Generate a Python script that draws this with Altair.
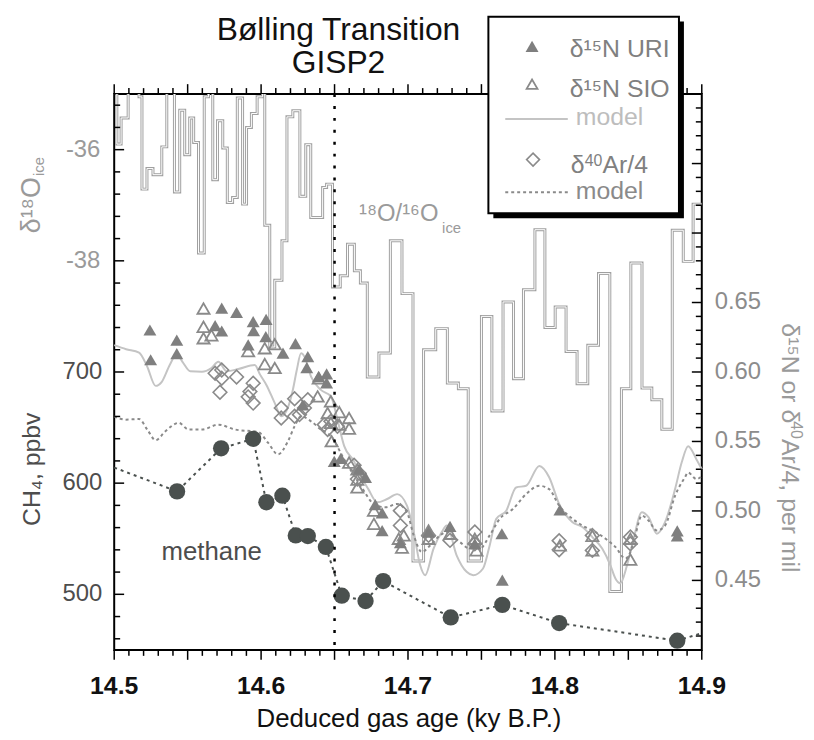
import altair as alt
import pandas as pd

FONT = "Liberation Sans"

# ---------------- data ----------------
# delta18O of ice (step series: start age of each step, per mil)
ice_age = [14.5000, 14.5018, 14.5047, 14.5095, 14.5169, 14.5189, 14.5223, 14.5264, 14.5324, 14.5358,
           14.5410, 14.5446, 14.5480, 14.5514, 14.5541, 14.5574, 14.5613, 14.5642, 14.5671, 14.5703,
           14.5739, 14.5770, 14.5806, 14.5838, 14.5874, 14.5901, 14.5934, 14.5973, 14.6010, 14.6025,
           14.6059, 14.6093, 14.6142, 14.6176, 14.6216, 14.6264, 14.6304, 14.6338, 14.6419, 14.6446,
           14.6486, 14.6539, 14.6588, 14.6635, 14.6676, 14.6723, 14.6802, 14.6880, 14.6959, 14.7034,
           14.7106, 14.7189, 14.7268, 14.7343, 14.7410, 14.7500, 14.7571, 14.7647, 14.7718, 14.7786,
           14.7864, 14.7932, 14.8002, 14.8076, 14.8151, 14.8224, 14.8297, 14.8374, 14.8453, 14.8517,
           14.8593, 14.8660, 14.8728, 14.8799, 14.8874, 14.8941, 14.9000]
ice_d18o = [-34.6, -35.90, -35.43, -34.6, -35.05, -36.71, -36.34, -36.45, -35.95, -34.6,
            -36.76, -35.29, -36.09, -35.43, -35.87, -37.86, -35.05, -34.6, -36.54, -35.48,
            -35.97, -36.95, -36.86, -35.07, -36.98, -35.60, -35.35, -35.05, -34.6, -37.36,
            -39.55, -38.35, -37.64, -35.41, -35.30, -36.84, -35.91, -37.22, -36.68, -36.62,
            -38.47, -38.27, -37.70, -38.18, -38.40, -40.09, -39.66, -37.64, -38.59, -43.40,
            -39.60, -39.22, -40.20, -40.30, -43.40, -39.00, -40.70, -38.74, -40.12, -38.52,
            -37.44, -39.20, -38.83, -39.63, -40.21, -39.52, -38.23, -43.95, -40.30, -38.04,
            -40.29, -40.50, -41.03, -37.45, -38.01, -36.98, -36.98]

# delta15N URI (filled triangles)
uri_age = [14.5243, 14.5248, 14.5426, 14.5426, 14.5687, 14.5732, 14.5732, 14.5833, 14.5946, 14.5949,
           14.6034, 14.6032, 14.5912, 14.6149, 14.6234, 14.6318, 14.6311, 14.6392, 14.6446, 14.6446,
           14.6284, 14.6498, 14.6543, 14.6667, 14.6711, 14.6777, 14.6824, 14.6824, 14.6948, 14.7140,
           14.7286, 14.7455, 14.7639, 14.7642, 14.8034, 14.8833, 14.8833]
uri_d15n = [0.6302, 0.6088, 0.6229, 0.6132, 0.6334, 0.6459, 0.6295, 0.6429, 0.6362, 0.6298,
            0.6379, 0.6254, 0.6195, 0.6136, 0.6204, 0.6111, 0.6032, 0.5968, 0.5986, 0.5921,
            0.5764, 0.5357, 0.5379, 0.5300, 0.5241, 0.5046, 0.4986, 0.4859, 0.4771, 0.4848,
            0.4889, 0.4764, 0.4836, 0.4502, 0.5007, 0.4857, 0.4821]

# delta15N SIO (open triangles)
sio_age = [14.5608, 14.5608, 14.5608, 14.5662, 14.5912, 14.6025, 14.6093, 14.6025, 14.6093, 14.6392,
           14.6385, 14.6475, 14.6453, 14.6532, 14.6599, 14.6599, 14.6532, 14.6475, 14.6480, 14.6599,
           14.6655, 14.6655, 14.6655, 14.6768, 14.6768, 14.6937, 14.6971, 14.6959, 14.7140, 14.7140,
           14.7286, 14.7455, 14.7466, 14.8034, 14.8255, 14.8255, 14.8514, 14.8514]
sio_d15n = [0.6457, 0.6325, 0.6243, 0.6264, 0.6150, 0.6171, 0.6200, 0.6057, 0.6029, 0.5955,
            0.5824, 0.5789, 0.5705, 0.5711, 0.5669, 0.5593, 0.5621, 0.5634, 0.5502, 0.5348,
            0.5300, 0.5225, 0.5169, 0.5002, 0.4907, 0.4800, 0.4824, 0.4736, 0.4859, 0.4800,
            0.4836, 0.4800, 0.4716, 0.4752, 0.4821, 0.4716, 0.4800, 0.4650]

# delta40Ar/4 (open diamonds)
ar_age = [14.5687, 14.5732, 14.5732, 14.5833, 14.5720, 14.5946, 14.5924, 14.5912, 14.5946, 14.6137,
          14.6137, 14.6228, 14.6228, 14.6295, 14.6318, 14.6261, 14.6430, 14.6475, 14.6520, 14.6453,
          14.6633, 14.6667, 14.6655, 14.6948, 14.6948, 14.7140, 14.7286, 14.7455, 14.7455, 14.8029,
          14.8029, 14.8255, 14.8255, 14.8514, 14.8514]
ar_val = [0.5991, 0.6014, 0.5955, 0.5964, 0.5854, 0.5919, 0.5859, 0.5821, 0.5776, 0.5741,
          0.5669, 0.5807, 0.5681, 0.5741, 0.5800, 0.5693, 0.5621, 0.5645, 0.5609, 0.5586,
          0.5329, 0.5271, 0.5229, 0.5002, 0.4895, 0.4824, 0.4788, 0.4848, 0.4764, 0.4786,
          0.4721, 0.4824, 0.4716, 0.4812, 0.4764]

# delta15N model (solid light line)
n_model_age = [14.5000, 14.5081, 14.5169, 14.5223, 14.5282, 14.5324, 14.5378, 14.5426, 14.5466, 14.5518,
               14.5597, 14.5662, 14.5709, 14.5766, 14.5845, 14.5957, 14.5993, 14.6036, 14.6093, 14.6137,
               14.6182, 14.6216, 14.6243, 14.6272, 14.6297, 14.6340, 14.6407, 14.6475, 14.6520, 14.6566,
               14.6633, 14.6678, 14.6730, 14.6791, 14.6858, 14.6926, 14.6993, 14.7039, 14.7083, 14.7117,
               14.7174, 14.7230, 14.7264, 14.7331, 14.7399, 14.7444, 14.7511, 14.7556, 14.7601, 14.7669,
               14.7736, 14.7804, 14.7894, 14.7961, 14.8029, 14.8120, 14.8187, 14.8255, 14.8322, 14.8378,
               14.8412, 14.8446, 14.8491, 14.8536, 14.8592, 14.8637, 14.8694, 14.8750, 14.8818, 14.8863,
               14.8907, 14.8964, 14.9000]
n_model_val = [0.6193, 0.6164, 0.6139, 0.6043, 0.5900, 0.5929, 0.6050, 0.6129, 0.6071, 0.6005,
               0.6002, 0.6029, 0.6074, 0.6005, 0.6021, 0.6050, 0.5981, 0.5907, 0.5776, 0.5681,
               0.5743, 0.5871, 0.6014, 0.6134, 0.6107, 0.5966, 0.5871, 0.5824, 0.5657, 0.5466,
               0.5357, 0.5252, 0.5157, 0.5062, 0.5086, 0.5121, 0.5038, 0.4848, 0.4609, 0.4538,
               0.4729, 0.4848, 0.4895, 0.4681, 0.4562, 0.4538, 0.4586, 0.4752, 0.4943, 0.5002,
               0.5169, 0.5181, 0.5324, 0.5243, 0.5050, 0.4919, 0.4884, 0.4812, 0.4729, 0.4609,
               0.4514, 0.4479, 0.4609, 0.4800, 0.4991, 0.4955, 0.4836, 0.4919, 0.5157, 0.5348,
               0.5466, 0.5371, 0.5300]

# delta40Ar/4 model (dotted line)
ar_model_age = [14.5000, 14.5079, 14.5169, 14.5225, 14.5282, 14.5349, 14.5439, 14.5507, 14.5597, 14.5709,
                14.5822, 14.5980, 14.6047, 14.6115, 14.6182, 14.6228, 14.6272, 14.6340, 14.6407, 14.6475,
                14.6566, 14.6678, 14.6768, 14.6847, 14.6926, 14.6993, 14.7039, 14.7095, 14.7151, 14.7218,
                14.7264, 14.7353, 14.7421, 14.7489, 14.7556, 14.7624, 14.7714, 14.7804, 14.7894, 14.7961,
                14.8029, 14.8120, 14.8187, 14.8277, 14.8345, 14.8412, 14.8480, 14.8514, 14.8547, 14.8592,
                14.8637, 14.8694, 14.8750, 14.8818, 14.8885, 14.8907, 14.8964, 14.9000]
ar_model_val = [0.5681, 0.5657, 0.5662, 0.5586, 0.5509, 0.5574, 0.5634, 0.5586, 0.5586, 0.5621,
                0.5586, 0.5568, 0.5491, 0.5407, 0.5500, 0.5609, 0.5681, 0.5645, 0.5586, 0.5538,
                0.5371, 0.5181, 0.5050, 0.5026, 0.5050, 0.4991, 0.4824, 0.4705, 0.4752, 0.4824,
                0.4848, 0.4776, 0.4729, 0.4729, 0.4824, 0.4943, 0.5014, 0.5121, 0.5181, 0.5157,
                0.5038, 0.4943, 0.4895, 0.4848, 0.4800, 0.4741, 0.4657, 0.4705, 0.4824, 0.4966,
                0.4931, 0.4859, 0.4895, 0.5109, 0.5241, 0.5276, 0.5229, 0.5250]

# methane (filled circles, dotted connecting line)
ch4_age = [14.5428, 14.5728, 14.5946, 14.6036, 14.6145, 14.6236, 14.6318, 14.6441, 14.6549, 14.6711,
           14.6831, 14.7291, 14.7642, 14.8029, 14.8833]
ch4_ppbv = [592.6, 631.3, 639.9, 582.8, 588.7, 553.0, 552.4, 542.6, 498.8, 494.0,
            511.9, 479.2, 490.5, 474.1, 458.3]
# where the dotted methane line meets the plot edges
ch4_edge_age = [14.5000, 14.9000]
ch4_edge_ppbv = [614.0, 465.0]

transition_age = [14.65]

# tick labels
x_labels = [14.5, 14.6, 14.7, 14.8, 14.9]
ice_labels = [-36, -38]
ch4_labels = [500, 600, 700]
n_labels = [0.45, 0.50, 0.55, 0.60, 0.65]

# tick marks
x_ticks_major = [round(14.5 + 0.05 * i, 2) for i in range(9)]
x_ticks_minor = [round(14.5 + 0.01 * i, 2) for i in range(41) if i % 5]
left_ticks_major = [500, 600, 700, 800, 900]
left_ticks_minor = [460 + 20 * i for i in range(25) if (460 + 20 * i) % 100]
right_ticks_major = [0.45, 0.50, 0.55, 0.60, 0.65, 0.70, 0.75]
right_ticks_minor = [round(0.40 + 0.01 * i, 2) for i in range(1, 40) if i % 5]

# ---------------- chart ----------------
W, H = 592, 560
xs = alt.Scale(domain=[14.5, 14.9], nice=False, zero=False)
ys_ice = alt.Scale(domain=[-45, -35], nice=False, zero=False)
ys_ch4 = alt.Scale(domain=[450, 950], nice=False, zero=False)
ys_n = alt.Scale(domain=[0.40, 0.80], nice=False, zero=False)

GRAY = "#8a8a8a"
DARK = "#4a504e"
one = pd.DataFrame({"k": [0]})


def X(field):
    return alt.X(f"{field}:Q", scale=xs, axis=None)


def Y(field, scale):
    return alt.Y(f"{field}:Q", scale=scale, axis=None)


def free_text(txt, x, y, size, color, angle=0, align="center", baseline="middle", weight="normal"):
    return alt.Chart(one).mark_text(angle=angle, align=align, baseline=baseline, font=FONT,
                                    fontSize=size, color=color, fontWeight=weight).encode(
        x=alt.value(x), y=alt.value(y), text=alt.value(txt))


# --- ice group ---
ice_df = pd.DataFrame({"age": ice_age, "v": ice_d18o})
ice_gray = alt.Chart(ice_df).mark_line(interpolate="step-after", color="#a0a0a0",
                                        strokeWidth=3.0, clip=True).encode(
    x=X("age"), y=Y("v", ys_ice))
ice_white = alt.Chart(ice_df).mark_line(interpolate="step-after", color="white",
                                         strokeWidth=1.0, clip=True).encode(
    x=X("age"), y=Y("v", ys_ice))

note_df = pd.DataFrame({"age": [14.6667], "v": [-37.29], "t": ["¹⁸O/¹⁶O"]})
note_sub_df = pd.DataFrame({"age": [14.7232], "v": [-37.50], "t": ["ice"]})
ice_note = alt.Chart(note_df).mark_text(align="left", baseline="alphabetic", font=FONT,
                                        fontSize=24, color="#9a9a9a").encode(
    x=X("age"), y=Y("v", ys_ice), text="t:N")
ice_note_sub = alt.Chart(note_sub_df).mark_text(align="left", baseline="alphabetic", font=FONT,
                                                fontSize=15, color="#9a9a9a").encode(
    x=X("age"), y=Y("v", ys_ice), text="t:N")

ice_lab_df = pd.DataFrame({"v": ice_labels, "t": [f"-{abs(v)}" for v in ice_labels]})
ice_labs = alt.Chart(ice_lab_df).mark_text(align="right", baseline="middle", font=FONT,
                                           fontSize=24, color="#9a9a9a").encode(
    y=Y("v", ys_ice), x=alt.value(-14), text="t:N")

x_lab_df = pd.DataFrame({"age": x_labels, "t": [f"{v:.1f}" for v in x_labels]})
x_labs = alt.Chart(x_lab_df).mark_text(align="center", baseline="top", font=FONT, fontSize=25,
                                       fontWeight="bold", color="#111111").encode(
    x=X("age"), y=alt.value(H + 24), text="t:N")

tick_x_major = pd.DataFrame({"age": x_ticks_major})
tick_x_minor = pd.DataFrame({"age": x_ticks_minor})
top_major = alt.Chart(tick_x_major).mark_rule(color="black", strokeWidth=1.5).encode(
    x=X("age"), y=alt.value(0), y2=alt.value(-10))
top_minor = alt.Chart(tick_x_minor).mark_rule(color="black", strokeWidth=1.5).encode(
    x=X("age"), y=alt.value(0), y2=alt.value(-6))
bot_major = alt.Chart(tick_x_major).mark_rule(color="black", strokeWidth=1.5).encode(
    x=X("age"), y=alt.value(H), y2=alt.value(H + 10))
bot_minor = alt.Chart(tick_x_minor).mark_rule(color="black", strokeWidth=1.5).encode(
    x=X("age"), y=alt.value(H), y2=alt.value(H + 6))

ice_group = alt.layer(ice_gray, ice_white, ice_note, ice_note_sub, ice_labs, x_labs,
                      top_major, top_minor, bot_major, bot_minor)

# --- nitrogen / argon group ---
n_model_df = pd.DataFrame({"age": n_model_age, "v": n_model_val})
ar_model_df = pd.DataFrame({"age": ar_model_age, "v": ar_model_val})
uri_df = pd.DataFrame({"age": uri_age, "v": uri_d15n})
sio_df = pd.DataFrame({"age": sio_age, "v": sio_d15n})
ar_df = pd.DataFrame({"age": ar_age, "v": ar_val})

n_model = alt.Chart(n_model_df).mark_line(color="#c4c4c4", strokeWidth=2,
                                          interpolate="monotone").encode(
    x=X("age"), y=Y("v", ys_n))
ar_model = alt.Chart(ar_model_df).mark_line(color=GRAY, strokeWidth=2, strokeDash=[3, 3],
                                            interpolate="monotone").encode(
    x=X("age"), y=Y("v", ys_n))
sio_pts = alt.Chart(sio_df).mark_point(shape="triangle-up", filled=False, size=150,
                                       color=GRAY, strokeWidth=1.8, opacity=1).encode(
    x=X("age"), y=Y("v", ys_n))
ar_pts = alt.Chart(ar_df).mark_point(shape="diamond", filled=False, size=190,
                                     color=GRAY, strokeWidth=1.6, opacity=1).encode(
    x=X("age"), y=Y("v", ys_n))
uri_pts = alt.Chart(uri_df).mark_point(shape="triangle-up", filled=True, size=170,
                                       color="#7f7f7f", opacity=1).encode(
    x=X("age"), y=Y("v", ys_n))

n_lab_df = pd.DataFrame({"v": n_labels, "t": [f"{v:.2f}" for v in n_labels]})
n_labs = alt.Chart(n_lab_df).mark_text(align="left", baseline="middle", font=FONT,
                                       fontSize=24, color="#8c8c8c").encode(
    y=Y("v", ys_n), x=alt.value(W + 13), text="t:N")

rt_major = alt.Chart(pd.DataFrame({"v": right_ticks_major})).mark_rule(
    color="black", strokeWidth=1.5).encode(
    y=Y("v", ys_n), x=alt.value(W), x2=alt.value(W - 10))
rt_minor = alt.Chart(pd.DataFrame({"v": right_ticks_minor})).mark_rule(
    color="black", strokeWidth=1.5).encode(
    y=Y("v", ys_n), x=alt.value(W), x2=alt.value(W - 6))

n_group = alt.layer(n_model, ar_model, sio_pts, ar_pts, uri_pts, n_labs, rt_major, rt_minor)

# --- methane group ---
ch4_line_df = pd.DataFrame({"age": ch4_edge_age[:1] + ch4_age + ch4_edge_age[1:],
                            "v": ch4_edge_ppbv[:1] + ch4_ppbv + ch4_edge_ppbv[1:]})
ch4_df = pd.DataFrame({"age": ch4_age, "v": ch4_ppbv})
ch4_line = alt.Chart(ch4_line_df).mark_line(color=DARK, strokeWidth=2, strokeDash=[3, 4]).encode(
    x=X("age"), y=Y("v", ys_ch4))
ch4_pts = alt.Chart(ch4_df).mark_circle(size=270, color=DARK, opacity=1).encode(
    x=X("age"), y=Y("v", ys_ch4))
methane_df = pd.DataFrame({"age": [14.5322], "v": [530.6], "t": ["methane"]})
methane_txt = alt.Chart(methane_df).mark_text(align="left", baseline="alphabetic", font=FONT,
                                              fontSize=26, color="#4d4d4d").encode(
    x=X("age"), y=Y("v", ys_ch4), text="t:N")
ch4_lab_df = pd.DataFrame({"v": ch4_labels, "t": [str(v) for v in ch4_labels]})
ch4_labs = alt.Chart(ch4_lab_df).mark_text(align="right", baseline="middle", font=FONT,
                                           fontSize=24, color="#4d4d4d").encode(
    y=Y("v", ys_ch4), x=alt.value(-12), text="t:N")
lt_major = alt.Chart(pd.DataFrame({"v": left_ticks_major})).mark_rule(
    color="black", strokeWidth=1.5).encode(
    y=Y("v", ys_ch4), x=alt.value(0), x2=alt.value(10))
lt_minor = alt.Chart(pd.DataFrame({"v": left_ticks_minor})).mark_rule(
    color="black", strokeWidth=1.5).encode(
    y=Y("v", ys_ch4), x=alt.value(0), x2=alt.value(6))
transition = alt.Chart(pd.DataFrame({"age": transition_age})).mark_rule(
    color="black", strokeWidth=2.5, strokeDash=[3, 9]).encode(x=X("age"))

ch4_group = alt.layer(ch4_line, ch4_pts, methane_txt, ch4_labs, lt_major, lt_minor, transition)

# --- titles and legend box ---
shadow = alt.Chart(one).mark_rect(color="black").encode(
    x=alt.value(382), x2=alt.value(574), y=alt.value(-73), y2=alt.value(125))
box = alt.Chart(one).mark_rect(fill="white", stroke="black", strokeWidth=2).encode(
    x=alt.value(377), x2=alt.value(569), y=alt.value(-78), y2=alt.value(120))

leg_uri = alt.Chart(one).mark_point(shape="triangle-up", filled=True, size=170,
                                    color="#7f7f7f", opacity=1).encode(
    x=alt.value(421), y=alt.value(-48))
leg_sio = alt.Chart(one).mark_point(shape="triangle-up", filled=False, size=120,
                                    color=GRAY, strokeWidth=1.8, opacity=1).encode(
    x=alt.value(421), y=alt.value(-10))
leg_nmod = alt.Chart(one).mark_rule(color="#c4c4c4", strokeWidth=2).encode(
    x=alt.value(394), x2=alt.value(457), y=alt.value(25))
leg_ar = alt.Chart(one).mark_point(shape="diamond", filled=False, size=170,
                                   color=GRAY, strokeWidth=1.6, opacity=1).encode(
    x=alt.value(422), y=alt.value(66))
leg_armod = alt.Chart(one).mark_rule(color=GRAY, strokeWidth=2, strokeDash=[3, 3]).encode(
    x=alt.value(394), x2=alt.value(457), y=alt.value(99))

# right-hand axis title, built from pieces so that the "40" superscript renders cleanly
RX = W + 81          # baseline position of the rotated title
RY = 231             # where the rotated title starts
right_title = alt.layer(
    free_text("δ¹⁵N or δ", RX, RY, 25, "#9a9a9a", angle=90, align="left", baseline="alphabetic"),
    free_text("40", RX + 9, RY + 98.6, 16, "#9a9a9a", angle=90, align="left", baseline="alphabetic"),
    free_text("Ar/4, per mil", RX, RY + 116.4, 25, "#9a9a9a", angle=90, align="left",
              baseline="alphabetic"),
)

frame_texts = alt.layer(
    free_text("Bølling Transition", 226, -54, 32, "#111111", baseline="alphabetic"),
    free_text("GISP2", 226, -21, 32, "#111111", baseline="alphabetic"),
    free_text("Deduced gas age (ky B.P.)", 297, H + 70, 26, "#111111"),
    free_text("δ¹⁸O", -83, 112, 27, "#9a9a9a", angle=270),
    free_text("ice", -76, 73, 15, "#9a9a9a", angle=270),
    free_text("CH₄, ppbv", -83, 378, 25, "#4d4d4d", angle=270),
    right_title,
    shadow, box, leg_uri, leg_sio, leg_nmod, leg_ar, leg_armod,
    free_text("δ¹⁵N URI", 459, -37, 25, "#808080", align="left", baseline="alphabetic"),
    free_text("δ¹⁵N SIO", 459, 3, 25, "#808080", align="left", baseline="alphabetic"),
    free_text("model", 465, 31, 25, "#bdbdbd", align="left", baseline="alphabetic"),
    free_text("δ", 460, 80, 25, "#808080", align="left", baseline="alphabetic"),
    free_text("40", 474, 72, 16, "#808080", align="left", baseline="alphabetic"),
    free_text("Ar/4", 492, 80, 25, "#808080", align="left", baseline="alphabetic"),
    free_text("model", 465, 106, 25, "#8a8a8a", align="left", baseline="alphabetic"),
)

chart = alt.layer(ice_group, n_group, ch4_group, frame_texts).resolve_scale(
    y="independent"
).properties(
    width=W, height=H,
    padding={"left": 107, "top": 84, "right": 105, "bottom": 80},
    autosize=alt.AutoSizeParams(type="none"),
).configure_view(
    stroke="black", strokeWidth=2
).configure_text(font=FONT)

chart.save("out.html", embed_options={"renderer": "svg", "actions": False})
